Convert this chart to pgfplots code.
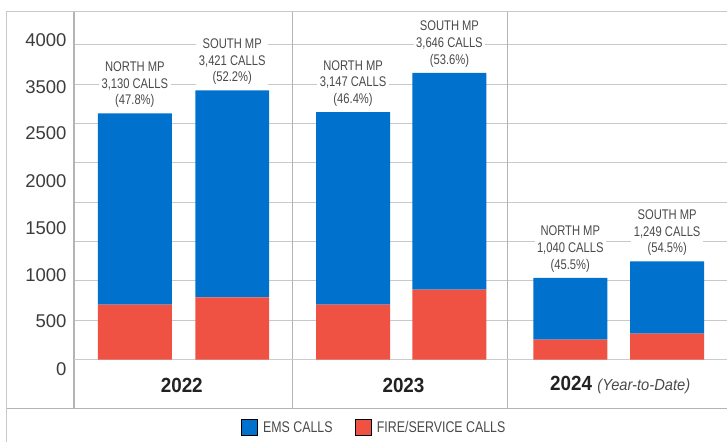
\documentclass[border=0pt]{standalone}
\usepackage{fontspec}
\setmainfont{Liberation Sans}
\newfontfamily\cond[FakeStretch=0.8]{Liberation Sans}
\newfontfamily\yfont[FakeStretch=0.92]{Liberation Sans}
\usepackage{pgfplots}
\pgfplotsset{compat=1.18}
\definecolor{emsblue}{HTML}{0072CE}
\definecolor{firered}{HTML}{EF5142}
\definecolor{gridgray}{HTML}{C8C8C8}
\definecolor{basegray}{HTML}{CCCCCC}
\definecolor{framegray}{HTML}{B4B4B4}
\definecolor{labelgray}{HTML}{4A4A4A}
\definecolor{tickgray}{HTML}{3C3C3C}
\definecolor{yeargray}{HTML}{222222}
\tikzset{lbl/.style={anchor=south, yshift=3pt, fill=white, inner sep=2.5pt, align=center,
    font=\cond\fontsize{14}{16.7}\selectfont, text=labelgray}}
\pgfplotsset{sq legend/.style={legend image code/.code={\fill[#1] (0pt,-8pt) rectangle (16pt,8pt); \path (20pt,0pt);}}}
% x = bar centre (px), fire = FIRE/SERVICE calls, ems = EMS calls
\begin{document}
\begin{tikzpicture}
\begin{axis}[
  scale only axis, width=654pt, height=443pt,
  xmin=74, xmax=728, ymin=-1054, ymax=4571.4,
  enlargelimits=false, clip=false,
  axis lines=left, axis line style={draw=none, opacity=0, -},
  ybar stacked, bar width=74,
  xtick=\empty,
  ytick={0,500,...,4000}, yticklabels={},
  ymajorgrids=true, major grid style={draw=gridgray, line width=1pt},
  major tick length=0pt,
  extra y ticks={4063,3467,2883,2273,1676,1079,483,-127},
  extra y tick labels={4000,3500,2500,2000,1500,1000,500,0},
  extra y tick style={ymajorgrids=false},
  yticklabel style={font=\fontsize{18.5}{20}\selectfont, text=tickgray, xshift=-4pt},
  /pgf/number format/assume math mode=true,
  legend style={at={(axis cs:374.5,-863.5)}, anchor=center, draw=none, fill=none,
    legend columns=2, font=\cond\fontsize{15.5}{18}\selectfont, text=labelgray,
    /tikz/every even column/.append style={column sep=20pt}},
]
\addlegendimage{sq legend, fill=emsblue}
\addlegendentry{EMS CALLS}
\addlegendimage{sq legend, fill=firered}
\addlegendentry{FIRE/SERVICE CALLS}

\addplot[fill=firered, draw=none, forget plot] table[x=x, y=fire] {
x     fire ems
135   698  2432
232.5 791  2630
353.5 698  2449
450   889  2757
571   254  786
668   330  919
};
\addplot[fill=emsblue, draw=none, forget plot] table[x=x, y=ems] {
x     fire ems
135   698  2432
232.5 791  2630
353.5 698  2449
450   889  2757
571   254  786
668   330  919
};

% frame and separators
\path (axis cs:0,-1054) rectangle (axis cs:728,4571.4);
\draw[basegray, line width=1.8pt] (axis cs:74,0) -- (axis cs:728,0);
\draw[gridgray, line width=1.2pt] (axis cs:6.5,4423) -- (axis cs:728,4423);
\draw[gridgray, line width=1.4pt] (axis cs:6.5,4423) -- (axis cs:6.5,-1054);
\draw[framegray, line width=1.2pt] (axis cs:6.5,-626) -- (axis cs:728,-626);
\draw[framegray, line width=1.2pt] (axis cs:74,4423) -- (axis cs:74,-626);
\draw[framegray, line width=1.2pt] (axis cs:292.5,4423) -- (axis cs:292.5,-626);
\draw[framegray, line width=1.2pt] (axis cs:508.5,4423) -- (axis cs:508.5,-626);

% bar labels
\node[lbl] at (axis cs:135,3130) {NORTH MP\\3,130 CALLS\\(47.8\%)};
\node[lbl] at (axis cs:232.5,3421) {SOUTH MP\\3,421 CALLS\\(52.2\%)};
\node[lbl] at (axis cs:353.5,3147) {NORTH MP\\3,147 CALLS\\(46.4\%)};
\node[lbl] at (axis cs:450,3646) {SOUTH MP\\3,646 CALLS\\(53.6\%)};
\node[lbl] at (axis cs:571,1040) {NORTH MP\\1,040 CALLS\\(45.5\%)};
\node[lbl] at (axis cs:668,1249) {SOUTH MP\\1,249 CALLS\\(54.5\%)};

% year labels
\node[text=yeargray, font=\yfont\bfseries\fontsize{20.5}{22}\selectfont] at (axis cs:182,-330) {2022};
\node[text=yeargray, font=\yfont\bfseries\fontsize{20.5}{22}\selectfont] at (axis cs:404,-330) {2023};
\node[text=yeargray, font=\yfont\fontsize{20.5}{22}\selectfont] at (axis cs:621,-330) {\bfseries 2024\ {\fontsize{16}{18}\selectfont\mdseries\itshape\color{labelgray}(Year-to-Date)}};
\end{axis}
\end{tikzpicture}
\end{document}
